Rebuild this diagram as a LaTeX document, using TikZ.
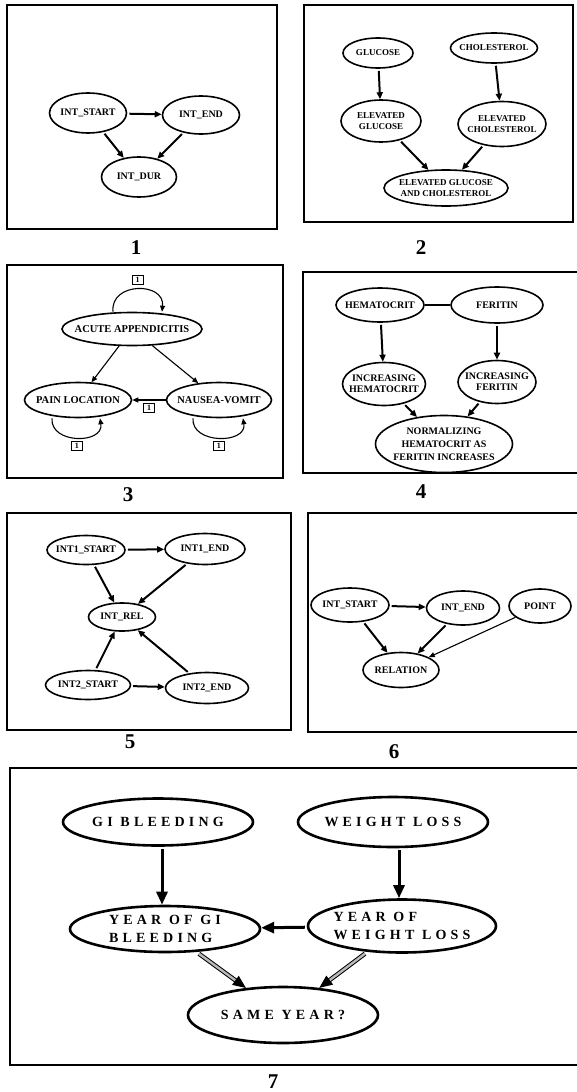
\documentclass[tikz,border=0pt]{standalone}
\usepackage{fontspec}
\setmainfont{Liberation Serif}
\newfontfamily\widefont[LetterSpace=30]{Liberation Serif}
\usetikzlibrary{positioning}
\usetikzlibrary{shapes.geometric}
\usetikzlibrary{arrows.meta}

\begin{document}
\begin{tikzpicture}[x=1pt, y=-1pt,
        panel/.style={draw, line width=1.4pt},
        num/.style={font=\bfseries\fontsize{21}{21}\selectfont},
        ev/.style={ellipse, draw, line width=1.6pt, inner sep=-20pt, align=center, font=\bfseries\fontsize{10}{11}\selectfont},
        evtwo/.style={ev, font=\bfseries\fontsize{9}{10.5}\selectfont},
        evthree/.style={ev, font=\bfseries\fontsize{10.5}{11}\selectfont},
        evseven/.style={ev, line width=2.6pt, align=left, font=\widefont\bfseries\fontsize{14}{18}\selectfont},
        tag/.style={draw, line width=.9pt, inner sep=1pt, minimum width=11pt, minimum height=9pt, font=\bfseries\fontsize{8}{8}\selectfont},
        lnk/.style={-{Triangle[length=7pt,width=6pt]}, line width=2pt, shorten <=2pt},
        lnkthin/.style={-{Triangle[length=6pt,width=5pt]}, line width=1.1pt},
        big/.style={-{Triangle[length=13pt,width=11pt]}, line width=3pt, shorten <=2pt},
        dbl/.style={-{Triangle[length=13pt,width=11pt]}, line width=1pt, double=gray!55, double distance=2.4pt, shorten <=3pt}]
    \useasboundingbox (0,0) rectangle (576,1092);

    % panel 1
    \draw[panel] (7,5) rectangle (277,229);
    \node[num] (num1) at (136,248) {1};
    \node[ev, minimum width=77, minimum height=40] (s1) at (88,113) {INT\_START};
    \node[ev, minimum width=77, minimum height=38] (e1) at (201,115) {INT\_END};
    \node[ev, minimum width=75, minimum height=40] (d1) at (139,177) {INT\_DUR};
    \draw[lnk] (s1) -- (e1);
    \draw[lnk] (s1) -- (d1);
    \draw[lnk] (e1) -- (d1);

    % panel 2
    \draw[panel] (304,5) rectangle (573,222);
    \node[num] (num2) at (421,248) {2};
    \node[evtwo, minimum width=70, minimum height=30] (g2) at (378,53) {GLUCOSE};
    \node[evtwo, minimum width=87, minimum height=30] (c2) at (494,48) {CHOLESTEROL};
    \node[evtwo, minimum width=80, minimum height=42] (eg2) at (381,121) {ELEVATED\\GLUCOSE};
    \node[evtwo, minimum width=88, minimum height=45] (ec2) at (502,124) {ELEVATED\\CHOLESTEROL};
    \node[evtwo, minimum width=124, minimum height=36] (egc2) at (446,188) {ELEVATED GLUCOSE\\AND CHOLESTEROL};
    \draw[lnk] (g2) -- (eg2);
    \draw[lnk] (c2) -- (ec2);
    \draw[lnk] (eg2) -- (egc2);
    \draw[lnk] (ec2) -- (egc2);

    % panel 3
    \draw[panel] (7,265) rectangle (283,478);
    \node[num] (num3) at (128,495) {3};
    \node[evthree, minimum width=140, minimum height=33] (aa3) at (132,329) {ACUTE APPENDICITIS};
    \node[evthree, minimum width=107, minimum height=35] (pl3) at (78,400) {PAIN LOCATION};
    \node[evthree, minimum width=105, minimum height=35] (nv3) at (219,400) {NAUSEA-VOMIT};
    \draw[lnkthin] (aa3) -- (pl3);
    \draw[lnkthin] (aa3) -- (nv3);
    \draw[lnkthin] (nv3) -- (pl3) node[tag, midway, below=3pt] (t3c) {1};
    \draw[lnkthin] ([xshift=-19pt]aa3.north) .. controls +(-3,-30) and +(3,-30) .. ([xshift=30pt]aa3.north)
        node[tag, pos=.5, above=4pt] (t3a) {1};
    \draw[lnkthin] ([xshift=-26pt]pl3.south) .. controls +(-2,26) and +(4,26) .. ([xshift=22pt]pl3.south)
        node[tag, pos=.5, below=3pt] (t3b) {1};
    \draw[lnkthin] ([xshift=-26pt]nv3.south) .. controls +(-2,26) and +(4,26) .. ([xshift=24pt]nv3.south)
        node[tag, pos=.5, below=3pt] (t3d) {1};

    % panel 4
    \draw[panel] (303,272) rectangle (580,473);
    \node[num] (num4) at (421,492) {4};
    \node[ev, minimum width=88, minimum height=34] (hm4) at (380,305) {HEMATOCRIT};
    \node[ev, minimum width=92, minimum height=36] (fe4) at (497,305) {FERITIN};
    \node[ev, minimum width=83, minimum height=43] (ih4) at (384,384) {INCREASING\\HEMATOCRIT};
    \node[ev, minimum width=78, minimum height=43] (if4) at (497,382) {INCREASING\\FERITIN};
    \node[ev, minimum width=137, minimum height=57, font=\bfseries\fontsize{10}{13}\selectfont] (nm4) at (444,444) {NORMALIZING\\HEMATOCRIT AS\\FERITIN INCREASES};
    \draw[line width=1.3pt] (hm4) -- (fe4);
    \draw[lnk] (hm4) -- (ih4);
    \draw[lnk] (fe4) -- (if4);
    \draw[lnk] (ih4) -- (nm4);
    \draw[lnk] (if4) -- (nm4);

    % panel 5
    \draw[panel] (7,513) rectangle (291,730);
    \node[num] (num5) at (130,742) {5};
    \node[ev, minimum width=78, minimum height=29] (s5) at (86,550) {INT1\_START};
    \node[ev, minimum width=80, minimum height=31] (e5) at (205,549) {INT1\_END};
    \node[ev, minimum width=67, minimum height=28] (r5) at (122,617) {INT\_REL};
    \node[ev, minimum width=85, minimum height=29] (s25) at (88,685) {INT2\_START};
    \node[ev, minimum width=83, minimum height=31] (e25) at (207,688) {INT2\_END};
    \draw[lnk] (s5) -- (e5);
    \draw[lnk] (s5) -- (r5);
    \draw[lnk] (e5) -- (r5);
    \draw[lnk] (s25) -- (r5);
    \draw[lnk] (e25) -- (r5);
    \draw[lnk] (s25) -- (e25);

    % panel 6
    \draw[panel] (308,513) rectangle (580,732);
    \node[num] (num6) at (394,752) {6};
    \node[ev, minimum width=78, minimum height=34] (s6) at (350,605) {INT\_START};
    \node[ev, minimum width=73, minimum height=34] (e6) at (463,608) {INT\_END};
    \node[ev, minimum width=62, minimum height=34] (p6) at (540,606) {POINT};
    \node[ev, minimum width=76, minimum height=35] (r6) at (401,670) {RELATION};
    \draw[lnk] (s6) -- (e6);
    \draw[lnk] (s6) -- (r6);
    \draw[lnk] (e6) -- (r6);
    \draw[lnkthin] (p6) -- (r6);

    % panel 7
    \draw[panel] (10,768) rectangle (580,1065);
    \node[num] (num7) at (273,1082) {7};
    \node[evseven, minimum width=190, minimum height=47] (gi7) at (158,822) {GI BLEEDING};
    \node[evseven, minimum width=190, minimum height=50] (wl7) at (393,822) {WEIGHT LOSS};
    \node[evseven, minimum width=190, minimum height=46] (yg7) at (165,929) {YEAR OF GI\\BLEEDING};
    \node[evseven, minimum width=188, minimum height=53] (yw7) at (402,926) {YEAR OF\\WEIGHT LOSS};
    \node[evseven, minimum width=190, minimum height=56] (sy7) at (283,1015) {SAME YEAR?};
    \draw[big] (gi7.south -| 162,0) -- (yg7.north -| 162,0);
    \draw[big] (wl7.south -| 399,0) -- (yw7.north -| 399,0);
    \draw[big] (yw7) -- (yg7);
    \draw[dbl] (yg7) -- (sy7);
    \draw[dbl] (yw7) -- (sy7);
\end{tikzpicture}
\end{document}
